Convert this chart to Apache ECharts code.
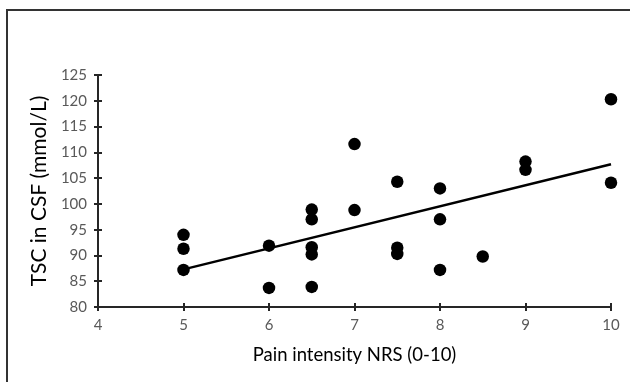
<!DOCTYPE html>
<html>
<head>
<meta charset="utf-8">
<script src="https://cdn.jsdelivr.net/npm/echarts@6/dist/echarts.min.js"></script>
<style>html,body{margin:0;padding:0;background:#fff}#c{width:630px;height:382px}</style>
</head>
<body>
<div id="c"></div>
<script>
var painNRS = [5, 5, 5, 6, 6, 6.5, 6.5, 6.5, 6.5, 6.5, 7, 7, 7.5, 7.5, 7.5, 8, 8, 8, 8.5, 9, 9, 10, 10];
var tscCSF  = [94.0, 91.3, 87.2, 91.9, 83.7, 98.9, 97.0, 91.6, 90.2, 83.9, 111.6, 98.8, 104.3, 91.5, 90.3, 103.0, 97.0, 87.2, 89.8, 108.2, 106.6, 120.3, 104.1];
var trendX = [5, 10];
var trendY = [87.3, 107.7];
var xTicks = [4, 5, 6, 7, 8, 9, 10];
var yTicks = [80, 85, 90, 95, 100, 105, 110, 115, 120, 125];

var FONT = 'Lato, "Open Sans", sans-serif';
var chart = echarts.init(document.getElementById('c'));
var grid = {left: 98, right: 19, top: 75, bottom: 75};
function xa(inside, show) {
  return {
    type: 'value', position: 'bottom', min: xTicks[0], max: xTicks[xTicks.length - 1], interval: 1,
    axisLine: {show: true, lineStyle: {color: '#262626', width: 2}},
    axisTick: {show: true, inside: inside, length: 4, lineStyle: {color: '#262626', width: 2}},
    axisLabel: {show: show, color: '#595959', fontSize: 15, fontFamily: FONT, margin: 11},
    splitLine: {show: false},
    name: show ? 'Pain intensity NRS (0-10)' : '', nameLocation: 'middle', nameGap: 39,
    nameTextStyle: {color: '#000', fontSize: 18.5, fontFamily: FONT}
  };
}
function ya(inside, show) {
  return {
    type: 'value', position: 'left', min: yTicks[0], max: yTicks[yTicks.length - 1], interval: 5,
    axisLine: {show: true, lineStyle: {color: '#262626', width: 2}},
    axisTick: {show: true, inside: inside, length: 4, lineStyle: {color: '#262626', width: 2}},
    axisLabel: {show: show, color: '#595959', fontSize: 15, fontFamily: FONT, margin: 11},
    splitLine: {show: false},
    name: show ? 'TSC in CSF (mmol/L)' : '', nameLocation: 'middle', nameGap: 44,
    nameTextStyle: {color: '#000', fontSize: 21, fontFamily: FONT}
  };
}
chart.setOption({
  animation: false,
  backgroundColor: '#fff',
  graphic: [
    {type: 'polyline', shape: {points: [[7, 382], [7, 10], [630, 10]]}, style: {stroke: '#333', lineWidth: 2, fill: null}}
  ],
  grid: grid,
  xAxis: [xa(false, true), xa(true, false)],
  yAxis: [ya(false, true), ya(true, false)],
  series: [
    {type: 'line', data: trendX.map(function (x, i) { return [x, trendY[i]]; }), showSymbol: false, symbol: 'none',
     lineStyle: {color: '#000', width: 2.5}, z: 2},
    {type: 'scatter', data: painNRS.map(function (x, i) { return [x, tscCSF[i]]; }), symbol: 'circle', symbolSize: 12.5,
     itemStyle: {color: '#000', opacity: 1}, z: 3}
  ]
});
</script>
</body>
</html>
